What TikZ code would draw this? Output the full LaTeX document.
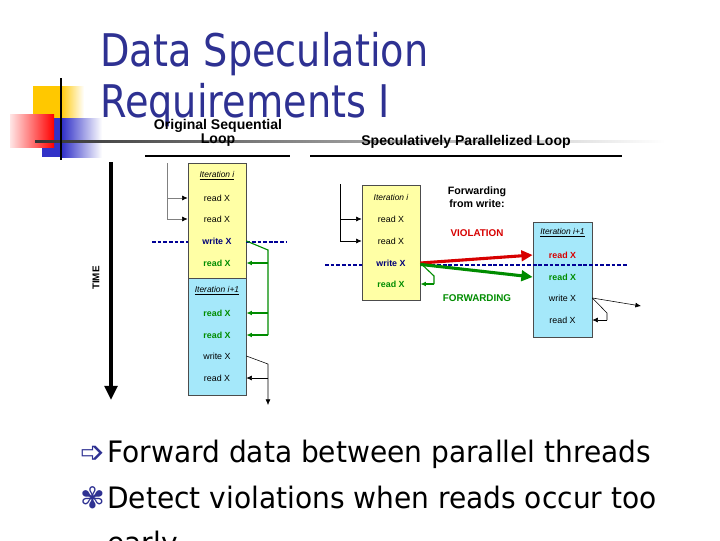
\documentclass[tikz,border=0pt]{standalone}
\usepackage{fontspec}
\setmainfont{Liberation Sans}
\newfontfamily\titlefont[FakeStretch=0.85]{DejaVu Sans}
\newfontfamily\slidefont[FakeStretch=0.95]{DejaVu Sans}
\newfontfamily\symfont{DejaVu Sans}
\usetikzlibrary{arrows.meta}
\definecolor{titleblue}{RGB}{46,49,146}
\definecolor{boxyellow}{RGB}{255,255,165}
\definecolor{boxcyan}{RGB}{165,232,250}
\definecolor{wrblue}{RGB}{0,0,120}
\definecolor{fwgreen}{RGB}{0,140,0}
\definecolor{vred}{RGB}{215,0,0}
\definecolor{dotblue}{RGB}{0,0,150}
\definecolor{decogold}{RGB}{255,200,0}
\definecolor{decoblue}{RGB}{50,50,200}
\tikzset{
  iterbox/.style={draw=black!70, line width=0.5pt, minimum width=1.45cm, minimum height=2.875cm, inner sep=0pt},
  row/.style={font=\fontsize{6.3}{7}\selectfont, inner sep=1pt},
  iterhead/.style={font=\fontsize{6}{7}\selectfont\itshape, inner sep=1pt},
  subhead/.style={font=\fontsize{10}{10}\selectfont\bfseries, align=center},
  dotline/.style={dotblue, line width=1.7pt, dash pattern=on 2.6pt off 1.4pt},
  smallarr/.style={-{Latex[length=4pt,width=3.5pt]}},
  bigarr/.style={line width=2.2pt, -{Triangle[length=8pt,width=7.5pt]}},
}
\begin{document}
\begin{tikzpicture}[x=0.025cm, y=-0.025cm]
  \useasboundingbox (0,0) rectangle (720,540);
  % corner decoration
  \fill[decogold] (33,86) rectangle (60,118);
  \shade[left color=decogold, right color=white] (60,86) rectangle (84,118);
  \fill[decoblue] (42,118) rectangle (62,157);
  \shade[left color=decoblue, right color=white] (62,118) rectangle (102,157);
  \shade[left color=red!10, right color=red] (10,114) rectangle (54,147);
  \shade[left color=black!80, right color=white] (35,140) rectangle (665,142.5);
  \draw[line width=2pt] (61,78) -- (61,160);
  % title
  \node[anchor=base west, inner sep=0pt, text=titleblue, font=\titlefont\fontsize{32}{36}\selectfont] (title1) at (100,66) {Data Speculation};
  \node[anchor=base west, inner sep=0pt, text=titleblue, font=\titlefont\fontsize{32}{36}\selectfont] (title2) at (100,117) {Requirements I};
  % headings
  \node[subhead] (hOrig) at (218,133) {Original Sequential\\Loop};
  \node[subhead, anchor=base] (hSpec) at (466,145) {Speculatively Parallelized Loop};
  \draw[line width=1pt] (145,156) -- (290,156);
  \draw[line width=1pt] (310,156) -- (622,156);
  % time axis
  \coordinate (tTop) at (111,162);
  \coordinate (tBot) at (111,400);
  \draw[line width=3.5pt, -{Triangle[length=10pt,width=9pt]}] (tTop) -- (tBot);
  \node[rotate=90, font=\fontsize{7}{8}\selectfont\bfseries] (time) at (96,278) {TIME};

  % original sequential loop
  \node[iterbox, fill=boxyellow] (boxYa) at (217,220.5) {};
  \node[iterbox, fill=boxcyan, minimum height=2.925cm] (boxCa) at (217,336.5) {};
  \node[iterhead] (itA) at (217,176) {\underline{Iteration i}};
  \node[row] (rdA1) at (217,198) {read X};
  \node[row] (rdA2) at (217,219) {read X};
  \node[row, text=wrblue, font=\fontsize{6.3}{7}\selectfont\bfseries] (wrA) at (217,241) {write X};
  \node[row, text=fwgreen, font=\fontsize{6.3}{7}\selectfont\bfseries] (rdA3) at (217,263) {read X};
  \node[iterhead] (itB) at (217,291) {\underline{Iteration i+1}};
  \node[row, text=fwgreen, font=\fontsize{6.3}{7}\selectfont\bfseries] (rdB1) at (217,313) {read X};
  \node[row, text=fwgreen, font=\fontsize{6.3}{7}\selectfont\bfseries] (rdB2) at (217,335) {read X};
  \node[row] (wrB) at (217,356) {write X};
  \node[row] (rdB3) at (217,378) {read X};

  \coordinate (inA) at (167,163);
  \draw[gray, -{Latex[length=4pt,width=3.5pt,color=black]}] (inA) |- (rdA1 -| boxYa.west);
  \draw[gray, -{Latex[length=4pt,width=3.5pt,color=black]}] (inA) |- (rdA2 -| boxYa.west);
  \coordinate (dlA1) at (152,242);
  \coordinate (dlA2) at (286,242);
  \draw[dotline] (dlA1) -- (boxYa.west |- dlA1);
  \draw[dotline] (boxYa.east |- dlA1) -- (dlA2);
  \coordinate (kA) at (268,250);
  \draw[fwgreen, line width=0.8pt] (wrA -| boxYa.east) -- (kA) -- (kA |- rdB2);
  \draw[fwgreen, line width=0.8pt, smallarr] (kA |- rdA3) -- (rdA3 -| boxYa.east);
  \draw[fwgreen, line width=0.8pt, smallarr] (kA |- rdB1) -- (rdB1 -| boxCa.east);
  \draw[fwgreen, line width=1.3pt, smallarr] (kA |- rdB2) -- (rdB2 -| boxCa.east);
  \coordinate (kB) at (268,364);
  \coordinate (outB) at (268,405);
  \draw[smallarr] (wrB -| boxCa.east) -- (kB) -- (outB);
  \draw[smallarr] (kB |- rdB3) -- (rdB3 -| boxCa.east);

  % speculatively parallelized loop
  \node[iterbox, fill=boxyellow] (boxYb) at (391,242.5) {};
  \node[iterbox, fill=boxcyan, minimum width=1.475cm] (boxCb) at (562.5,279.5) {};
  \node[iterhead] (itC) at (391,197) {Iteration i};
  \node[row] (rdC1) at (391,219) {read X};
  \node[row] (rdC2) at (391,241) {read X};
  \node[row, text=wrblue, font=\fontsize{6.3}{7}\selectfont\bfseries] (wrC) at (391,263) {write X};
  \node[row, text=fwgreen, font=\fontsize{6.3}{7}\selectfont\bfseries] (rdC3) at (391,284) {read X};
  \node[iterhead] (itD) at (562.5,233) {\underline{Iteration i+1}};
  \node[row, text=vred, font=\fontsize{6.3}{7}\selectfont\bfseries] (rdD1) at (562.5,255) {read X};
  \node[row, text=fwgreen, font=\fontsize{6.3}{7}\selectfont\bfseries] (rdD2) at (562.5,277) {read X};
  \node[row] (wrD) at (562.5,298) {write X};
  \node[row] (rdD3) at (562.5,320) {read X};

  \coordinate (inC) at (340,184);
  \draw[smallarr] (inC) |- (rdC1 -| boxYb.west);
  \draw[smallarr] (inC) |- (rdC2 -| boxYb.west);
  \coordinate (dlC1) at (325,265);
  \coordinate (dlC2) at (628,265);
  \draw[dotline] (dlC1) -- (boxYb.west |- dlC1);
  \draw[dotline] (boxYb.east |- dlC1) -- (dlC2);
  \coordinate (kC) at (434,276);
  \draw[fwgreen, line width=0.8pt] (wrC -| boxYb.east) -- (kC) -- (kC |- rdC3);
  \draw[fwgreen, line width=0.8pt, smallarr] (kC |- rdC3) -- (rdC3 -| boxYb.east);
  \draw[vred, bigarr] (wrC -| boxYb.east) -- (rdD1 -| boxCb.west);
  \draw[fwgreen, bigarr] ([yshift=-1pt]wrC -| boxYb.east) -- (rdD2 -| boxCb.west);
  \node[subhead, font=\fontsize{7.6}{9}\selectfont\bfseries] (fwd) at (477,197) {Forwarding\\from write:};
  \node[text=vred, font=\fontsize{7}{8}\selectfont\bfseries] (viol) at (477,233) {VIOLATION};
  \node[text=fwgreen, font=\fontsize{7}{8}\selectfont\bfseries] (forw) at (477,298) {FORWARDING};
  \coordinate (outD) at (641,306);
  \coordinate (kD) at (607,313);
  \draw[smallarr] (wrD -| boxCb.east) -- (outD);
  \draw (wrD -| boxCb.east) -- (kD) -- (kD |- rdD3);
  \draw[smallarr] (kD |- rdD3) -- (rdD3 -| boxCb.east);

  % bullets
  \node[anchor=base east, inner sep=0pt, text=titleblue, font=\symfont\fontsize{21}{24}\selectfont] (b1) at (106,462) {➩};
  \node[anchor=base west, inner sep=0pt, font=\slidefont\fontsize{21}{25}\selectfont] (t1) at (107,462) {Forward data between parallel threads};
  \node[anchor=base east, inner sep=0pt, text=titleblue, font=\symfont\fontsize{21}{24}\selectfont] (b2) at (106,508) {✾};
  \node[anchor=base west, inner sep=0pt, font=\slidefont\fontsize{21}{25}\selectfont] (t2) at (107,508) {Detect violations when reads occur too};
  \node[anchor=base west, inner sep=0pt, font=\slidefont\fontsize{21}{25}\selectfont] (t3) at (107,553) {early};
\end{tikzpicture}
\end{document}
